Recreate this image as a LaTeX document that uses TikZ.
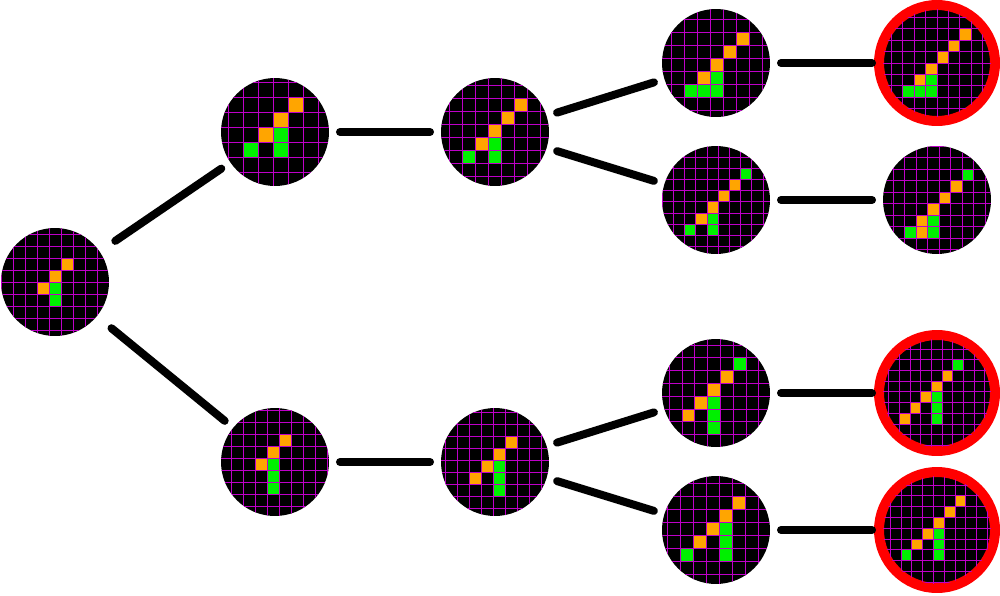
\documentclass[tikz,border=0pt]{standalone}
\definecolor{gridmag}{RGB}{190,0,200}
\definecolor{cello}{RGB}{255,165,0}
\definecolor{cellg}{RGB}{0,240,0}
\newcommand\pixboard[6]{%
\begin{scope}[shift={(#1)}]
\clip (0,0) circle (54);
\foreach \c/\r in {#5} \fill[cello] ({(\c+#3)*#2},{(\r+#4)*#2}) rectangle +(#2,#2);
\foreach \c/\r in {#6} \fill[cellg] ({(\c+#3)*#2},{(\r+#4)*#2}) rectangle +(#2,#2);
\foreach \k in {-6,...,6} {
  \draw[gridl] ({(\k+#3)*#2},-60) -- ({(\k+#3)*#2},60);
  \draw[gridl] (-60,{(\k+#4)*#2}) -- (60,{(\k+#4)*#2});
}
\end{scope}}
\begin{document}
\begin{tikzpicture}[x=0.02cm,y=-0.02cm,
  board/.style={circle,fill=black,minimum size=2.16cm,inner sep=0pt,outer sep=0.22cm},
  goal/.style={board,draw=red,line width=0.2cm,minimum size=2.32cm,outer sep=0.14cm},
  gridl/.style={gridmag,line width=0.5pt},
  edge/.style={line width=0.16cm,line cap=round}]
\useasboundingbox (0,0) rectangle (1000,595);
% boards
\node[board,outer sep=0.38cm] (R) at (55,282) {};
\node[board] (A1) at (275,132) {};
\node[board] (A2) at (495,132) {};
\node[board] (A3) at (716,63) {};
\node[board] (A4) at (716,200) {};
\node[goal] (A5) at (937,63) {};
\node[board] (A6) at (937,200) {};
\node[board] (B1) at (275,462) {};
\node[board] (B2) at (495,462) {};
\node[board] (B3) at (716,393) {};
\node[board] (B4) at (716,530) {};
\node[goal] (B5) at (937,393) {};
\node[goal] (B6) at (937,530) {};
% cells
\pixboard{55,282}{12}{0.5}{0}{0/-2,-1/-1,-2/0}{-1/0,-1/1}
\pixboard{275,132}{15}{-0.13}{-0.33}{1/-2,0/-1,-1/0}{0/0,0/1,-2/1}
\pixboard{495,132}{13}{0.5}{-0.6}{1/-2,0/-1,-1/0,-2/1}{-1/1,-1/2,-3/2}
\pixboard{716,63}{13}{0.55}{-0.35}{1/-2,0/-1,-1/0,-2/1}{-1/1,-1/2,-2/2,-3/2}
\pixboard{716,200}{11.2}{0.2}{0.16}{1/-2,0/-1,-1/0,-2/1}{2/-3,-1/1,-1/2,-3/2}
\pixboard{937,63}{11.4}{0}{0}{2/-3,1/-2,0/-1,-1/0,-2/1}{-1/1,-1/2,-2/2,-3/2}
\pixboard{937,200}{11.5}{0.2}{0.33}{1/-2,0/-1,-1/0,-2/1,-2/2}{2/-3,-1/1,-1/2,-3/2}
\pixboard{275,462}{12}{0.37}{-0.26}{0/-2,-1/-1,-2/0}{-1/0,-1/1,-1/2}
\pixboard{495,462}{12}{-0.17}{-0.17}{1/-2,0/-1,-1/0,-2/1}{0/0,0/1,0/2}
\pixboard{716,393}{12.8}{0.35}{0.25}{0/-2,-1/-1,-2/0,-3/1}{1/-3,-1/0,-1/1,-1/2}
\pixboard{716,530}{13}{0.28}{0.4}{1/-3,0/-2,-1/-1,-2/0}{0/-1,0/0,0/1,-3/1}
\pixboard{937,393}{10.7}{0.47}{-0.1}{0/-2,-1/-1,-2/0,-3/1,-4/2}{1/-3,-1/0,-1/1,-1/2}
\pixboard{937,530}{10.8}{0.66}{-0.17}{1/-3,0/-2,-1/-1,-2/0,-3/1}{-1/0,-1/1,-1/2,-4/2}
% moves
\draw[edge] (R) -- (A1);
\draw[edge] (R) -- (B1);
\draw[edge] (A1) -- (A2);
\draw[edge] (A2) -- (A3);
\draw[edge] (A2) -- (A4);
\draw[edge] (A3) -- (A5);
\draw[edge] (A4) -- (A6);
\draw[edge] (B1) -- (B2);
\draw[edge] (B2) -- (B3);
\draw[edge] (B2) -- (B4);
\draw[edge] (B3) -- (B5);
\draw[edge] (B4) -- (B6);
\end{tikzpicture}
\end{document}
